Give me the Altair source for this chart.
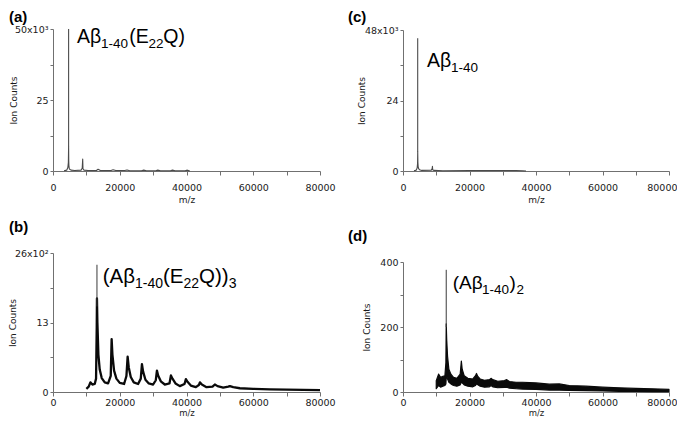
import altair as alt
import pandas as pd

# ---------------- data ----------------
# (a) Abeta1-40(E22Q), ion counts in units of 10^3
mz_a = [3300, 4100, 4450, 4600, 4680, 4720, 4760, 4850, 5000, 5400, 6500, 8400, 8750, 8900, 8980, 9300,
        10500, 13000, 13500, 14200, 17400, 18000, 18800, 21500, 22200, 23000, 26500, 27200, 28000, 30800,
        31400, 32200, 35200, 35800, 36600, 39600, 40100, 41000]
ic_a = [0.1, 0.3, 1.2, 3.0, 8.7, 3.5, 2.0, 1.0, 0.6, 0.3, 0.2, 0.3, 1.0, 4.2, 0.8, 0.3,
        0.15, 0.2, 0.6, 0.15, 0.2, 0.45, 0.15, 0.15, 0.35, 0.1, 0.1, 0.3, 0.1, 0.1,
        0.3, 0.1, 0.1, 0.3, 0.1, 0.1, 0.3, 0.0]
spike_a_mz = [4690]
spike_a_lo = [8.7]
spike_a_hi = [50.0]

# (c) Abeta1-40, units of 10^3
mz_c = [3300, 4000, 4250, 4380, 4430, 4480, 4560, 4700, 5000, 5600, 8500, 8780, 8850, 8930, 9300,
        12000, 20000, 28000, 34000, 36000, 37000]
ic_c = [0.1, 0.3, 1.0, 2.5, 6.5, 3.0, 1.5, 0.8, 0.4, 0.2, 0.3, 0.8, 1.6, 0.4, 0.2,
        0.1, 0.15, 0.15, 0.15, 0.1, 0.0]
spike_c_mz = [4430]
spike_c_lo = [6.5]
spike_c_hi = [45.2]

# (b) (Abeta1-40(E22Q))3, units of 10^2
mz_b = [10000, 10700, 11200, 11800, 12500, 12900, 13100, 13170, 13300, 13600,
        14000, 14600, 15500, 16500, 17300, 17570, 17800, 18300, 19000, 20000,
        21300, 22000, 22360, 22700, 23300, 24200, 25500, 26300, 26650, 27000,
        27700, 28700, 30000, 30800, 31140, 31500, 32300, 33500, 34900, 35330,
        35800, 36700, 38000, 39400, 39820, 40300, 41300, 42800, 43700, 44010,
        44600, 46000, 47800, 48500, 49300, 51000, 52500, 53000, 54000, 56000,
        60000, 65000, 70000, 75000, 80000]
ic_b = [0.6, 1.0, 1.8, 1.4, 1.5, 2.5, 12, 17.5, 13, 7,
        4.2, 2.6, 1.8, 1.6, 3, 9.9, 7, 4, 2.5, 1.7,
        1.5, 3, 6.6, 4.6, 2.8, 1.8, 1.5, 2.5, 5.2, 3.8,
        2.3, 1.6, 1.4, 2.2, 4.0, 3.1, 2.0, 1.4, 1.6, 3.1,
        2.5, 1.6, 1.1, 1.5, 2.4, 1.9, 1.2, 0.9, 1.3, 1.8,
        1.4, 0.9, 1.0, 1.4, 1.1, 0.8, 1.0, 1.1, 0.9, 0.7,
        0.6, 0.5, 0.45, 0.4, 0.35]
spike_b_mz = [13170]
spike_b_lo = [16.0]
spike_b_hi = [23.8]

# (d) (Abeta1-40)2, ion counts; noisy band given as lower / upper envelope
mz_d = [10000, 10700, 11300, 12000, 12600, 12900, 13000, 13150, 13400, 13800,
        14400, 15200, 16200, 17200, 17550, 17800, 18400, 19500, 21000, 21800,
        22100, 22500, 23200, 24500, 26000, 26470, 27000, 28500, 30500, 31200,
        32000, 34000, 36000, 40000, 44000, 47000, 50000, 55000, 60000, 65000,
        70000, 75000, 80000]
lo_d = [10, 20, 15, 18, 20, 25, 45, 50, 40, 30,
        25, 20, 18, 22, 30, 28, 22, 18, 16, 20,
        25, 22, 18, 15, 16, 20, 16, 13, 14, 15,
        12, 10, 9, 8, 6, 6, 5, 4, 3, 2,
        2, 1, 1]
hi_d = [35, 55, 45, 48, 50, 90, 210, 160, 110, 70,
        55, 45, 42, 55, 95, 70, 50, 42, 40, 50,
        57, 48, 40, 36, 38, 42, 38, 33, 35, 38,
        32, 30, 30, 28, 24, 25, 20, 18, 15, 13,
        11, 10, 8]
spike_d_mz = [13000]
spike_d_lo = [200]
spike_d_hi = [376]

# axis ticks / labels
x_ticks = [0, 10000, 20000, 30000, 40000, 50000, 60000, 70000, 80000]
y_ticks_a = [0, 12.5, 25, 37.5, 50]
y_ticks_c = [0, 12, 24, 36, 48]
y_ticks_b = [0, 6.5, 13, 19.5, 26]
y_ticks_d = [0, 100, 200, 300, 400]
top_label_a = "50x10³"
top_label_c = "48x10³"
top_label_b = "26x10²"
top_label_d = "400"

panel_tags = ["(a)", "(b)", "(c)", "(d)"]
annot_a = ["Aβ", "1-40", "(E", "22", "Q)"]
annot_c = ["Aβ", "1-40"]
annot_b = ["(Aβ", "1-40", "(E", "22", "Q))", "3"]
annot_d = ["(Aβ", "1-40", ")", "2"]

# ---------------- styling helpers ----------------
FONT_AX = "DejaVu Sans"
FONT_TX = "Liberation Sans"
AX_COL = "#707070"
TXT_COL = "#1a1a1a"


def x_enc(label_pad, title_y, title_fs, right_col, field="mz"):
    extra = {}
    if right_col:
        # keep the last label inside the page: right-align it just past the axis end
        extra = dict(
            labelAlign={"condition": {"test": "datum.value == 80000", "value": "right"},
                        "value": "center"},
            labelOffset={"condition": {"test": "datum.value == 80000", "value": 8},
                         "value": 0},
        )
    return alt.X(
        f"{field}:Q",
        scale=alt.Scale(domain=[0, 80000], nice=False, zero=False),
        axis=alt.Axis(
            values=x_ticks, format="d",
            labelExpr="datum.value % 20000 == 0 ? datum.label : ''",
            title="m/z", titleY=title_y, titleBaseline="top",
            titleFont=FONT_AX, titleFontSize=title_fs, titleFontWeight="normal", titleColor=TXT_COL,
            labelFont=FONT_AX, labelFontSize=9.5, labelColor=TXT_COL, labelPadding=label_pad,
            tickSize=4, tickColor=AX_COL, domainColor=AX_COL, grid=False,
            labelOverlap=False, labelFlush=False, **extra,
        ),
    )


def y_enc(field, ticks, top_label, rng, tx):
    top = ticks[-1]
    step = ticks[2]
    expr = (f"datum.value == {top} ? '{top_label}' : "
            f"(datum.value % {step} == 0 ? datum.label : '')")
    axis = alt.Axis(
        values=ticks, labelExpr=expr,
        title="Ion Counts", titleX=tx, titleY=(rng[0] + rng[1]) / 2, titleAngle=270,
        titleAlign="center", titleBaseline="middle",
        titleFont=FONT_AX, titleFontSize=9, titleFontWeight="normal", titleColor=TXT_COL,
        labelFont=FONT_AX, labelFontSize=9.5, labelColor=TXT_COL, labelPadding=2,
        tickSize=3, tickColor=AX_COL, domainColor=AX_COL, grid=False,
        labelOverlap=False, labelFlush=False,
    )
    return alt.Y(f"{field}:Q",
                 scale=alt.Scale(domain=[0, top], range=list(rng), nice=False),
                 axis=axis)


def text_layers(tag, tag_pos, segs, positions):
    out = [alt.Chart(pd.DataFrame({"t": [tag]})).mark_text(
        font=FONT_TX, fontSize=15, fontWeight="bold", align="left",
        baseline="alphabetic", color="black").encode(
        text="t:N", x=alt.value(tag_pos[0]), y=alt.value(tag_pos[1]))]
    for s, (px, py, fs) in zip(segs, positions):
        out.append(alt.Chart(pd.DataFrame({"t": [s]})).mark_text(
            font=FONT_TX, fontSize=fs, align="left", baseline="alphabetic",
            color="black").encode(text="t:N", x=alt.value(px), y=alt.value(py)))
    return out


def line_panel(mz, ic, sp_mz, sp_lo, sp_hi, ticks, top_label, w, h, rng, tx, xargs,
               tag, tag_pos, segs, positions, color, sw):
    df = pd.DataFrame({"mz": mz, "ic": ic})
    sp = pd.DataFrame({"mz": sp_mz, "lo": sp_lo, "hi": sp_hi})
    line = alt.Chart(df).mark_line(color=color, strokeWidth=sw, strokeJoin="round").encode(
        x=x_enc(*xargs), y=y_enc("ic", ticks, top_label, rng, tx))
    spike = alt.Chart(sp).mark_rule(color="#3a3a3a", strokeWidth=1).encode(
        x=x_enc(*xargs), y=y_enc("lo", ticks, top_label, rng, tx), y2="hi:Q")
    return alt.layer(line, spike, *text_layers(tag, tag_pos, segs, positions)).properties(
        width=w, height=h)


# ---------------- panels ----------------
H_TOP, H_BOT = 142, 139
X_TOP_L = (7, 24, 9, False)
X_TOP_R = (7, 24, 9, True)
X_BOT_L = (1.5, 16.5, 8.5, False)
X_BOT_R = (1.5, 16.5, 8.5, True)

chart_a = line_panel(
    mz_a, ic_a, spike_a_mz, spike_a_lo, spike_a_hi, y_ticks_a, top_label_a, 267, H_TOP,
    (H_TOP, 0), -39.5, X_TOP_L,
    panel_tags[0], (-44, -7), annot_a,
    [(24, 13.7, 19.5), (48, 19, 13.5), (76.3, 13.7, 19.5), (95.5, 19, 13.5), (110.3, 13.7, 19.5)],
    "#4a4a4a", 1.1)

chart_c = line_panel(
    mz_c, ic_c, spike_c_mz, spike_c_lo, spike_c_hi, y_ticks_c, top_label_c, 266, H_TOP,
    (H_TOP, 1), -42, X_TOP_R,
    panel_tags[2], (-55, -7), annot_c,
    [(24, 37.7, 19.5), (48, 43, 13.5)],
    "#4a4a4a", 1.1)

chart_b = line_panel(
    mz_b, ic_b, spike_b_mz, spike_b_lo, spike_b_hi, y_ticks_b, top_label_b, 267, H_BOT,
    (H_BOT, 0), -41, X_BOT_L,
    panel_tags[1], (-44, -21), annot_b,
    [(49.7, 30.3, 20.5), (82.0, 35, 14), (110.0, 30.3, 20.5), (130.5, 35, 14),
     (146.1, 30.3, 20.5), (175.7, 35, 14)],
    "#0a0a0a", 2.3)

# (d): noisy band as an area between envelopes
RNG_D = (H_BOT, 9)
df_d = pd.DataFrame({"mz": mz_d, "lo": lo_d, "hi": hi_d})
sp_d = pd.DataFrame({"mz": spike_d_mz, "lo": spike_d_lo, "hi": spike_d_hi})
band_d = alt.Chart(df_d).mark_area(
    color="#0a0a0a", opacity=1, fillOpacity=1, stroke="#0a0a0a", strokeWidth=1.2,
    strokeJoin="round").encode(
    x=x_enc(*X_BOT_R), y=y_enc("lo", y_ticks_d, top_label_d, RNG_D, -37), y2="hi:Q")
spike_d = alt.Chart(sp_d).mark_rule(color="#3a3a3a", strokeWidth=1).encode(
    x=x_enc(*X_BOT_R), y=y_enc("lo", y_ticks_d, top_label_d, RNG_D, -37), y2="hi:Q")
chart_d = alt.layer(
    band_d, spike_d,
    *text_layers(panel_tags[3], (-55, -12), annot_d,
                 [(49.7, 36.3, 19), (79.0, 40.8, 13.5), (106.5, 36.3, 19), (113.5, 40.8, 13.5)])
).properties(width=266, height=H_BOT)

chart = alt.concat(
    chart_a, chart_c, chart_b, chart_d, columns=2, bounds="flush",
    spacing={"row": 82, "column": 83},
).properties(padding={"left": 0, "top": 2, "right": 0, "bottom": 0}).configure_view(stroke=None)

chart.save("out.html", embed_options={"renderer": "svg", "actions": False})
